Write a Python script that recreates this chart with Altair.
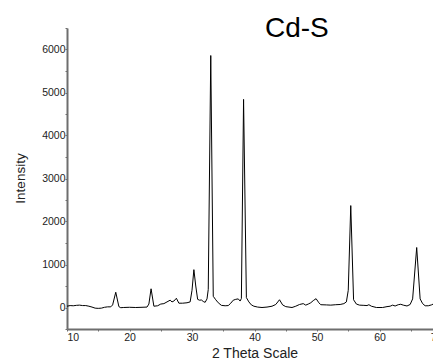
import altair as alt
import pandas as pd

two_theta = [10.0, 10.5, 11.0, 11.5, 12.0, 12.5, 13.0, 13.5, 14.0, 14.5, 15.0, 15.5, 16.0, 16.5, 17.0, 17.3, 17.8, 18.3, 18.6, 19.0,
             20.0, 21.0, 22.0, 22.8, 23.1, 23.45, 23.9, 24.5, 25.0, 25.5, 26.0, 26.5, 26.8, 27.1, 27.5, 27.9, 28.5, 29.2, 29.7,
             30.0, 30.3, 30.6, 30.9, 31.2, 31.5, 31.8, 32.1, 32.4, 32.6, 33.0, 33.4, 33.8, 34.2, 34.7, 35.3, 35.8, 36.2, 36.6,
             37.0, 37.4, 37.7, 37.9, 38.25, 38.7, 39.1, 39.5, 39.9, 40.5, 41.2, 42.0, 42.8, 43.4, 44.0, 44.5, 45.0, 46.0, 46.6,
             47.2, 47.8, 48.2, 48.6, 49.0, 49.4, 49.85, 50.3, 50.6, 51.5, 52.2, 53.0, 53.7, 54.3, 54.7, 55.0, 55.4, 55.85, 56.3,
             56.8, 57.5, 58.0, 58.3, 58.7, 59.5, 60.5, 61.2, 61.7, 62.1, 62.5, 63.0, 63.4, 63.8, 64.4, 64.9, 65.3, 65.95, 66.5,
             66.9, 67.3, 67.8, 68.3, 68.6, 68.9, 69.3, 69.7, 70.0]
intensity = [30, 45, 40, 50, 55, 45, 45, 30, 10, -15, -20, -15, 5, 15, 15, 60, 355, 20, -5, 0,
             5, 0, 5, 10, 80, 435, 30, 40, 80, 90, 130, 170, 130, 150, 215, 100, 100, 110, 130,
             400, 880, 500, 190, 170, 175, 140, 120, 200, 420, 5860, 260, 180, 110, 50, 40, 45, 100, 170,
             190, 200, 150, 210, 4840, 230, 130, 60, 30, 10, 0, 10, 30, 70, 180, 60, 20, 0, 30,
             70, 90, 55, 80, 110, 160, 205, 110, 65, 60, 55, 65, 70, 90, 130, 400, 2370, 180, 80,
             55, 50, 45, 65, 30, 0, 0, 20, 30, 55, 35, 65, 75, 55, 35, 70, 200, 1395, 200,
             90, 40, 40, 60, 80, 150, 590, 180, 120]

df = pd.DataFrame({"t": two_theta, "i": intensity})

x_ticks = list(range(10, 75, 5))
y_ticks = list(range(-500, 7000, 500))

chart = alt.Chart(df).mark_line(color="black", strokeWidth=1, clip=True).encode(
    x=alt.X("t:Q", scale=alt.Scale(domain=[10, 70], nice=False, zero=False),
            axis=alt.Axis(title="2 Theta Scale", values=x_ticks,
                          labelExpr="datum.value % 10 == 0 ? datum.label : ''",
                          titleFontSize=14, titleFontWeight="normal", titleY=28, titleBaseline="alphabetic",
                          labelFontSize=10.5, labelPadding=1, tickSize=2)),
    y=alt.Y("i:Q", scale=alt.Scale(domain=[-500, 6500], nice=False, zero=False),
            axis=alt.Axis(title="Intensity", values=y_ticks, format="d",
                          labelExpr="datum.value % 1000 == 0 && datum.value >= 0 ? datum.label : ''",
                          titleFontSize=13.5, titleFontWeight="normal",
                          titleX=-47, titleY=150, titleAngle=-90, titleBaseline="middle", titleAlign="center",
                          labelFontSize=10.5, labelPadding=0, tickSize=2)),
).properties(
    width=375, height=301,
    title=alt.TitleParams(text="Cd-S", anchor="start", fontSize=28, fontWeight="normal",
                          font="Liberation Sans", color="black", baseline="alphabetic",
                          offset=0, dx=198, dy=37, frame="group"),
    autosize=alt.AutoSizeParams(type="none"),
    padding={"left": 59, "top": 20, "right": -9, "bottom": 30},
).configure_view(stroke=None).configure_axis(
    grid=False, domainColor="#6e6e6e", domainWidth=2, tickColor="#6e6e6e",
    labelColor="#222", titleColor="#222", labelFont="Liberation Sans", titleFont="Liberation Sans",
)

chart.save("out.html", embed_options={"renderer": "svg", "actions": False})
